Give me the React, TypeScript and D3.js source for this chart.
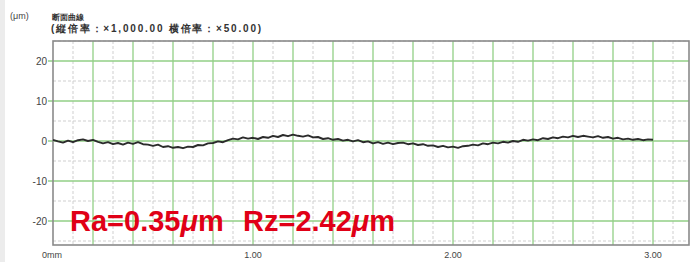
import * as d3 from "d3";

// Roughness profile, µm, sampled every 0.025 mm from 0 to 3.00 mm
const PROFILE_START_MM = 0;
const PROFILE_STEP_MM = 0.025;
const profileUm = [
  0.3, -0.1, -0.4, 0.1, -0.3, 0.2, 0.4, 0.0, 0.3, -0.2,
  -0.6, -0.3, -0.8, -0.5, -0.9, -0.4, -0.7, -0.3, -0.8, -0.9,
  -1.2, -0.9, -1.5, -1.3, -1.7, -1.5, -1.8, -1.4, -1.5, -1.0,
  -1.1, -0.6, -0.5, -0.1, -0.3, 0.2, 0.6, 0.4, 0.9, 0.6,
  0.8, 0.5, 1.0, 0.8, 1.3, 1.0, 1.5, 1.2, 1.6, 1.3,
  1.1, 1.4, 0.9, 1.0, 0.5, 0.7, 0.3, 0.5, 0.1, 0.3,
  -0.1, 0.2, -0.3, -0.1, -0.6, -0.3, -0.7, -0.4, -0.8, -0.5,
  -0.4, -0.8, -0.6, -1.0, -0.8, -1.2, -1.1, -1.5, -1.2, -1.6,
  -1.4, -1.7, -1.3, -1.2, -0.9, -1.1, -0.6, -0.8, -0.4, -0.6,
  -0.2, -0.4, 0.0, -0.2, 0.3, 0.1, 0.4, 0.2, 0.7, 0.5,
  0.9, 0.7, 1.1, 0.9, 1.3, 1.0, 1.3, 1.1, 0.9, 1.2,
  0.8, 1.0, 0.6, 0.8, 0.4, 0.6, 0.3, 0.5, 0.2, 0.4,
  0.3,
];

const yTicks = [20, 10, 0, -10, -20];
const yMinorTicks = [25, 15, 5, -5, -15, -25];
const xTicks = [0, 1, 2, 3];
const xTickLabels = ["0mm", "1.00", "2.00", "3.00"];
const unitLabel = "(μm)";
const titleLine1 = "断面曲線";
const titleLine2 = "(縦倍率：×1,000.00 横倍率：×50.00)";
const raText = "Ra=0.35";
const rzText = "Rz=2.42";

const W = 696;
const H = 262;
const plot = { left: 53, right: 689, top: 41, bottom: 245 };

export default function App() {
  const x = d3.scaleLinear().domain([0, 3.18]).range([plot.left, plot.right]);
  const y = d3.scaleLinear().domain([-26, 25]).range([plot.bottom, plot.top]);

  const majorX = d3.range(0.2, 3.18, 0.2);
  const minorX = d3.range(0.1, 3.18, 0.2);
  const majorY = d3.range(-20, 21, 10);

  const pts = profileUm.map((v, i) => [PROFILE_START_MM + i * PROFILE_STEP_MM, v] as [number, number]);
  const line = d3
    .line<[number, number]>()
    .x((d) => x(d[0]))
    .y((d) => y(d[1]));

  const green = "#92cf86";
  const minor = "#cfcfcf";
  const textCol = "#444";
  const font = "'Liberation Sans', Arial, sans-serif";
  const red = "#e00016";

  return (
    <svg
      width={W}
      height={H}
      style={{ position: "absolute", left: 0, top: 0, background: "#fff" }}
      fontFamily={font}
    >
      <rect x={0} y={0} width={5} height={H} fill="#ececec" />

      {/* header */}
      <text x={10} y={19} fontSize={9} fill={textCol}>
        {unitLabel}
      </text>
      <text x={52} y={20} fontSize={8} fill="#333" fontWeight="bold">
        {titleLine1}
      </text>
      <text x={51} y={32} fontSize={10} fill="#333" fontWeight="bold" letterSpacing={1.8}>
        {titleLine2}
      </text>

      {/* minor grid */}
      {minorX.map((v) => (
        <line key={"mx" + v} x1={x(v)} x2={x(v)} y1={plot.top} y2={plot.bottom} stroke={minor} strokeWidth={1} strokeDasharray="3,2" />
      ))}
      {yMinorTicks.map((v) => (
        <line key={"my" + v} x1={plot.left} x2={plot.right} y1={y(v)} y2={y(v)} stroke={minor} strokeWidth={1} strokeDasharray="3,2" />
      ))}

      {/* major grid */}
      {majorX.map((v) => (
        <line key={"gx" + v} x1={x(v)} x2={x(v)} y1={plot.top} y2={plot.bottom} stroke={green} strokeWidth={1.3} />
      ))}
      {majorY.map((v) => (
        <line key={"gy" + v} x1={plot.left - 5} x2={plot.right} y1={y(v)} y2={y(v)} stroke={green} strokeWidth={1.3} />
      ))}

      {/* frame */}
      <rect
        x={plot.left}
        y={plot.top}
        width={plot.right - plot.left}
        height={plot.bottom - plot.top}
        fill="none"
        stroke="#8a8a8a"
        strokeWidth={1.6}
      />

      {/* y labels */}
      {yTicks.map((v) => (
        <text key={"yl" + v} x={47} y={y(v) + 3.5} fontSize={10} fill={textCol} textAnchor="end">
          {v}
        </text>
      ))}

      {/* x labels */}
      {xTicks.map((v, i) => (
        <text
          key={"xl" + v}
          x={i === 0 ? x(v) - 11 : x(v)}
          y={258}
          fontSize={9}
          fill={textCol}
          textAnchor={i === 0 ? "start" : "middle"}
        >
          {xTickLabels[i]}
        </text>
      ))}

      {/* profile */}
      <path d={line(pts) ?? ""} fill="none" stroke="#2b2b2b" strokeWidth={1.9} strokeLinejoin="round" />

      {/* roughness annotation */}
      <text x={70} y={231} fontSize={29} fontWeight="bold" fill={red}>
        {raText}
        <tspan fontStyle="italic">μ</tspan>
        {"m"}
      </text>
      <text x={243} y={231} fontSize={29} fontWeight="bold" fill={red}>
        {rzText}
        <tspan fontStyle="italic">μ</tspan>
        {"m"}
      </text>
    </svg>
  );
}
